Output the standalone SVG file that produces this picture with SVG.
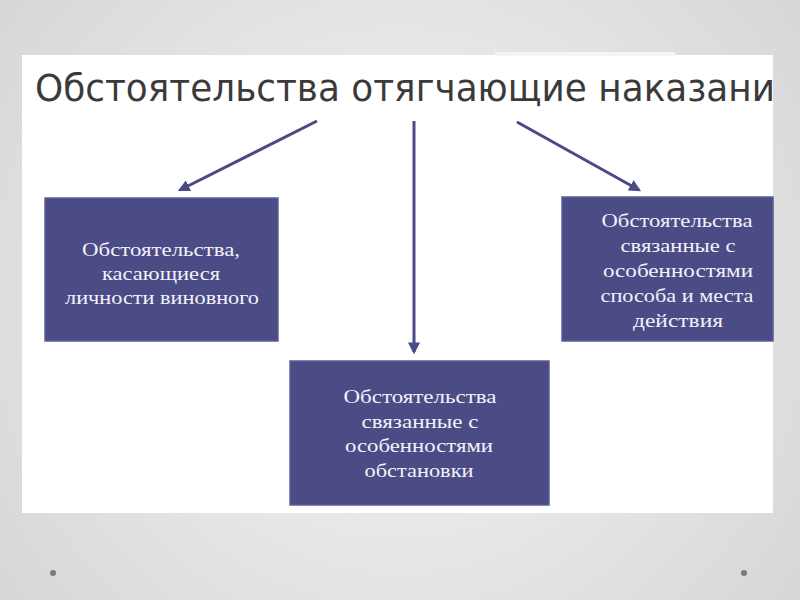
<svg xmlns="http://www.w3.org/2000/svg" width="800" height="600" viewBox="0 0 800 600">
<defs>
<radialGradient id="bg" cx="400" cy="300" r="480" gradientUnits="userSpaceOnUse">
<stop offset="0" stop-color="#f6f6f6"/>
<stop offset="1" stop-color="#d8d8d8"/>
</radialGradient>
<marker id="ah" viewBox="0 0 10 10" refX="8" refY="5" markerWidth="4" markerHeight="4" orient="auto" markerUnits="strokeWidth">
<path d="M0,0 L10,5 L0,10 z" fill="#4a4a86"/>
</marker>
<clipPath id="panel"><rect x="22" y="55" width="751" height="458"/></clipPath>
</defs>
<style>
.box{fill:#4b4b86;stroke:#5d5d98;stroke-width:1.5}
.bt{font-family:"Liberation Serif","Times New Roman",serif;font-size:19px;fill:#f2f2f8;text-anchor:middle}
.conn{stroke:#4a4a86;stroke-width:3;fill:none;marker-end:url(#ah)}
.title{font-family:"DejaVu Sans Condensed","DejaVu Sans",sans-serif;font-size:38px;fill:#3a3a3a}
</style>
<rect width="800" height="600" fill="url(#bg)"/>
<rect x="22" y="55" width="751" height="458" fill="#ffffff"/>
<rect x="495" y="52" width="180" height="4" fill="#f4f6f6"/>
<g clip-path="url(#panel)">
<text class="title" x="35" y="101" textLength="740" lengthAdjust="spacingAndGlyphs">Обстоятельства отягчающие наказани</text>
</g>
<g id="connectors">
<line class="conn" x1="317" y1="121" x2="180" y2="190"/>
<line class="conn" x1="414" y1="121" x2="414" y2="352"/>
<line class="conn" x1="517" y1="122" x2="639" y2="190"/>
</g>
<g id="node-left">
<rect class="box" x="45" y="198" width="233" height="143"/>
<text class="bt" x="161" y="256" textLength="158" lengthAdjust="spacingAndGlyphs">Обстоятельства,</text>
<text class="bt" x="161" y="280" textLength="118" lengthAdjust="spacingAndGlyphs">касающиеся</text>
<text class="bt" x="162" y="304" textLength="194" lengthAdjust="spacingAndGlyphs">личности виновного</text>
</g>
<g id="node-right">
<rect class="box" x="562" y="197" width="211" height="144"/>
<text class="bt" x="677" y="227" textLength="151" lengthAdjust="spacingAndGlyphs">Обстоятельства</text>
<text class="bt" x="678" y="252" textLength="115" lengthAdjust="spacingAndGlyphs">связанные с</text>
<text class="bt" x="678" y="277" textLength="150" lengthAdjust="spacingAndGlyphs">особенностями</text>
<text class="bt" x="677" y="302" textLength="153" lengthAdjust="spacingAndGlyphs">способа и места</text>
<text class="bt" x="678" y="327" textLength="90" lengthAdjust="spacingAndGlyphs">действия</text>
</g>
<g id="node-middle">
<rect class="box" x="290" y="361" width="259" height="144"/>
<text class="bt" x="420" y="403" textLength="153" lengthAdjust="spacingAndGlyphs">Обстоятельства</text>
<text class="bt" x="420" y="428" textLength="117" lengthAdjust="spacingAndGlyphs">связанные с</text>
<text class="bt" x="419" y="452" textLength="148" lengthAdjust="spacingAndGlyphs">особенностями</text>
<text class="bt" x="419" y="477" textLength="109" lengthAdjust="spacingAndGlyphs">обстановки</text>
</g>
<circle cx="53" cy="573" r="3" fill="#7a7a7a"/>
<circle cx="744" cy="573" r="3" fill="#7a7a7a"/>
</svg>
